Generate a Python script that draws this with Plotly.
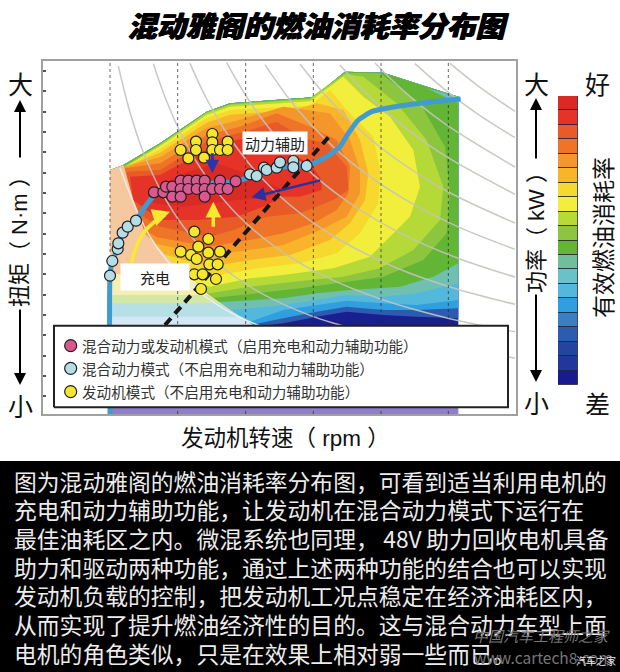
import plotly.graph_objects as go

W, H = 620, 672
CJK = "Noto Sans CJK SC"
MIXED = "Liberation Sans, Noto Sans CJK SC"

# ---------- data: chart units (engine speed index, torque index) ----------
grid_speeds = [180, 383, 587, 790, 993, 1195]
torque_ticks = [1029, 968, 907, 846, 785, 724, 663, 602, 541, 480, 419, 358, 297, 236, 175, 114, 53]

outline_speed = [180, 220, 330, 470, 540, 790, 885, 1000, 1225]
outline_torque = [732, 747, 812, 907, 932, 950, 1027, 1024, 952]

navy_low_speed = [1225, 180]
navy_low_torque = [200, 200]
royal_low_speed = [1225, 1100, 1000, 890, 800, 700, 620, 180]
royal_low_torque = [287, 292, 297, 307, 292, 272, 262, 262]
azure_low_speed = [1225, 1100, 1000, 890, 800, 700, 600, 180]
azure_low_torque = [317, 312, 312, 322, 307, 287, 267, 267]
sky_low_speed = [1225, 1100, 1000, 890, 800, 700, 600, 400, 180]
sky_low_torque = [342, 327, 332, 340, 327, 312, 277, 262, 262]
teal_low_speed = [1225, 1100, 1000, 890, 800, 700, 600, 450, 180]
teal_low_torque = [392, 362, 352, 357, 342, 327, 317, 302, 302]
green_low_speed = [1225, 1150, 1050, 900, 800, 700, 600, 500, 400, 180]
green_low_torque = [452, 412, 382, 372, 362, 347, 342, 337, 330, 330]

corner_speed = [1130, 1225, 1225]
corner_torque = [977, 952, 932]

midgreen_speed = [200, 330, 470, 540, 780, 885, 990, 1110, 1185, 1200, 1190, 1120, 1000, 890, 750, 620, 480, 300, 200]
midgreen_torque = [732, 810, 905, 930, 948, 1024, 1022, 932, 802, 662, 542, 462, 412, 397, 377, 362, 347, 400, 562]
lime_speed = [205, 330, 470, 540, 780, 885, 940, 1040, 1130, 1180, 1170, 1090, 990, 880, 730, 600, 480, 300, 205]
lime_torque = [730, 808, 903, 928, 945, 1020, 1012, 932, 822, 682, 582, 492, 437, 412, 397, 382, 362, 420, 562]
yellow_speed = [210, 330, 470, 540, 780, 880, 940, 1020, 1090, 1110, 1080, 1020, 960, 850, 700, 600, 480, 300, 210]
yellow_torque = [732, 803, 897, 922, 938, 1012, 952, 892, 792, 682, 592, 532, 472, 437, 417, 407, 382, 440, 562]
gold_speed = [213, 330, 470, 540, 780, 840, 890, 970, 990, 985, 930, 860, 750, 620, 480, 300, 213]
gold_torque = [734, 794, 888, 912, 925, 972, 912, 832, 732, 632, 542, 482, 452, 437, 412, 460, 562]
amber_speed = [216, 330, 470, 540, 720, 800, 880, 930, 955, 945, 900, 840, 720, 600, 480, 300, 216]
amber_torque = [737, 784, 874, 898, 910, 932, 912, 822, 722, 642, 572, 522, 477, 462, 442, 490, 562]
orange_speed = [220, 330, 470, 560, 700, 840, 900, 930, 930, 890, 810, 700, 580, 480, 320, 220]
orange_torque = [740, 770, 858, 880, 922, 902, 822, 732, 662, 592, 552, 507, 490, 477, 510, 582]
orange2_speed = [225, 330, 470, 570, 680, 780, 860, 900, 895, 860, 790, 700, 600, 480, 320, 225]
orange2_torque = [737, 752, 837, 862, 902, 862, 822, 742, 662, 612, 572, 542, 522, 502, 530, 592]
redorange_speed = [230, 330, 470, 600, 680, 760, 830, 890, 895, 850, 750, 650, 550, 480, 330, 230]
redorange_torque = [727, 732, 817, 852, 877, 827, 812, 742, 672, 642, 602, 592, 552, 532, 562, 622]
red_speed = [240, 330, 470, 560, 640, 700, 780, 815, 815, 750, 700, 640, 560, 440, 330, 250]
red_torque = [712, 717, 792, 822, 837, 792, 752, 702, 672, 652, 652, 622, 592, 582, 582, 642]
deepred_speed = [300, 400, 500, 600, 700, 640, 560, 400, 310]
deepred_torque = [672, 722, 752, 717, 672, 647, 642, 622, 632]

peach_speed = [180, 220, 225, 250, 285, 360, 440, 470, 540, 615, 180]
peach_torque = [732, 747, 732, 642, 542, 462, 392, 362, 312, 262, 262]
paleyellow_speed = [180, 412, 440, 470, 540, 615, 180]
paleyellow_torque = [420, 420, 392, 362, 312, 262, 262]
palegreen_speed = [180, 475, 540, 615, 180]
palegreen_torque = [357, 357, 312, 262, 262]
paleblue_speed = [180, 505, 540, 615, 180]
paleblue_torque = [332, 332, 312, 262, 262]
palesky_speed = [180, 575, 615, 180]
palesky_torque = [292, 292, 262, 262]
strip_speed = [180, 1225, 1225, 180]
strip_torque = [0, 0, 21, 21]

# constant-power curves
power_curves = [
    ([210, 300, 400, 500, 615, 640], [738, 532, 407, 329, 270, 262]),
    ([205, 240, 280, 340, 420, 520, 640, 780, 860, 1000, 1200, 1395], [1044, 905, 785, 656, 537, 438, 359, 296, 270, 233, 195, 168]),
    ([310, 350, 400, 470, 560, 680, 820, 1000, 1200, 1395], [1051, 938, 827, 710, 600, 498, 415, 342, 286, 247]),
    ([420, 470, 530, 610, 720, 860, 1040, 1220, 1395], [1052, 945, 843, 736, 627, 528, 438, 375, 329]),
    ([530, 590, 660, 760, 890, 1060, 1230, 1395], [1054, 951, 854, 745, 639, 538, 465, 411]),
    ([645, 710, 790, 900, 1040, 1210, 1395], [1048, 955, 861, 758, 659, 568, 494]),
    ([750, 820, 910, 1030, 1190, 1395], [1050, 963, 870, 771, 669, 573]),
    ([870, 940, 1040, 1170, 1395], [1047, 971, 880, 784, 659]),
    ([975, 1060, 1180, 1395], [1053, 970, 874, 741]),
    ([1095, 1180, 1280, 1395], [1051, 977, 902, 829]),
    ([1200, 1290, 1395], [1052, 980, 908]),
]

op_line_speed = [180, 180, 187, 203, 218, 258, 285, 310, 340, 395, 480, 555, 620, 700, 770, 830, 870, 895, 925, 965, 1010, 1110, 1232]
op_line_torque = [0, 415, 459, 495, 544, 580, 622, 652, 667, 687, 692, 697, 717, 742, 744, 772, 802, 842, 882, 907, 917, 932, 945]
bsfc_line_speed = [345, 835]
bsfc_line_torque = [267, 830]

hybrid_assist_speed = [312, 340, 348, 367, 392, 415, 440, 464, 510, 557, 392, 415, 440, 464, 487, 510, 533, 367, 392, 464]
hybrid_assist_torque = [665, 665, 682, 682, 700, 700, 700, 700, 700, 698, 675, 675, 675, 675, 675, 675, 675, 652, 652, 652]
hybrid_speed = [180, 187, 203, 205, 218, 233, 258, 600, 620, 642, 650, 680, 690, 730, 730, 770]
hybrid_torque = [415, 459, 495, 512, 544, 562, 580, 719, 714, 739, 732, 739, 755, 759, 740, 744]
engine_speed = [392, 415, 438, 438, 462, 487, 487, 487, 510, 533, 533,
                433, 475, 445, 392, 423, 440, 475, 510, 478, 503, 433, 458, 498, 453]
engine_torque = [792, 767, 817, 792, 769, 840, 815, 792, 792, 817, 792,
                 547, 525, 502, 487, 477, 465, 484, 487, 449, 449, 419, 419, 405, 375]

charge_arc_speed = [245, 255, 280, 320, 345]
charge_arc_torque = [452, 492, 542, 582, 597]

key_box_speed = [12, 1374, 1374, 12, 12]
key_box_torque = [20, 20, 265, 265, 20]
key_speed = [62, 62, 62]
key_torque = [205, 137, 67]
key_text_speed = 89
key_names = ["混合动力或发动机模式（启用充电和动力辅助功能）",
             "混合动力模式（不启用充电和动力辅助功能）",
             "发动机模式（不启用充电和动力辅助功能）"]
key_colors = ["#d9588f", "#b5dde6", "#f6e62c"]

scale_colors = ["#1a1a90", "#21379c", "#24459f", "#2c5cb0", "#3a7fc4", "#2f9fe0", "#54b8dc", "#6ac2c9", "#6fc09a", "#62b535",
                "#8cc63f", "#b8d93a", "#f2ee3c", "#f7d82e", "#f8b42b", "#f5962a", "#ef7428", "#e85a28", "#e63327", "#d92a25"]
scale_steps = [1] * 20
body_lines = ["图为混动雅阁的燃油消耗率分布图，可看到适当利用电机的",
              "充电和动力辅助功能，让发动机在混合动力模式下运行在",
              "最佳油耗区之内。微混系统也同理，\u200948V\u2009助力回收电机具备",
              "助力和驱动两种功能，通过上述两种功能的结合也可以实现",
              "发动机负载的控制，把发动机工况点稳定在经济油耗区内，",
              "从而实现了提升燃油经济性的目的。这与混合动力车型上面",
              "电机的角色类似，只是在效果上相对弱一些而已。"]
TITLE = "混动雅阁的燃油消耗率分布图"

# ---------- helpers (layout only) ----------
def px(x): return x / W
def py(y): return 1 - y / H

fig = go.Figure()

def patch(sx, sy, color):
    fig.add_trace(go.Scatter(x=sx, y=sy, mode="lines", fill="toself", fillcolor=color,
                             line=dict(width=0, color=color), showlegend=False, hoverinfo="skip"))

def band(low_x, low_y, color):
    patch(outline_speed + low_x, outline_torque + low_y, color)

band(navy_low_speed, navy_low_torque, "#1a1f8f")
band(royal_low_speed, royal_low_torque, "#2c5cb0")
band(azure_low_speed, azure_low_torque, "#2f9fe0")
band(sky_low_speed, sky_low_torque, "#54b8dc")
band(teal_low_speed, teal_low_torque, "#6fc0b0")
band(green_low_speed, green_low_torque, "#62b535")
patch(corner_speed, corner_torque, "#6fc0b0")
for sx, sy, c in [(midgreen_speed, midgreen_torque, "#8cc63f"), (lime_speed, lime_torque, "#b5d936"),
                  (yellow_speed, yellow_torque, "#f2ee3c"), (gold_speed, gold_torque, "#f7d82e"),
                  (amber_speed, amber_torque, "#f8b42b"), (orange_speed, orange_torque, "#f5962a"),
                  (orange2_speed, orange2_torque, "#ef7428"), (redorange_speed, redorange_torque, "#e85a28"),
                  (red_speed, red_torque, "#e63327"), (deepred_speed, deepred_torque, "#d92a25"),
                  (peach_speed, peach_torque, "#f5c8a0"), (paleyellow_speed, paleyellow_torque, "#f5eeb5"),
                  (palegreen_speed, palegreen_torque, "#d3e8a8"), (paleblue_speed, paleblue_torque, "#b6dfe6"),
                  (palesky_speed, palesky_torque, "#d5e6f5"), (strip_speed, strip_torque, "#8f7fc8")]:
    patch(sx, sy, c)

for i, (sx, sy) in enumerate(power_curves):
    fig.add_trace(go.Scatter(x=sx, y=sy, mode="lines", showlegend=False, hoverinfo="skip",
                             line=dict(color="rgba(240,240,240,0.9)" if i == 0 else "rgba(195,195,190,0.9)",
                                       width=1.5, shape="spline")))
for g in grid_speeds:
    fig.add_trace(go.Scatter(x=[g, g], y=[0, 1059], mode="lines", showlegend=False, hoverinfo="skip",
                             line=dict(color="rgba(40,40,40,0.7)", width=1, dash="dot")))

fig.add_trace(go.Scatter(x=op_line_speed, y=op_line_torque, mode="lines", showlegend=False, hoverinfo="skip",
                         line=dict(color="#3f9bd0", width=5, shape="spline", smoothing=0.5)))
fig.add_trace(go.Scatter(x=bsfc_line_speed, y=bsfc_line_torque, mode="lines", showlegend=False, hoverinfo="skip",
                         line=dict(color="#151515", width=4, dash="9px,6px")))
fig.add_trace(go.Scatter(x=charge_arc_speed, y=charge_arc_torque, mode="lines", showlegend=False, hoverinfo="skip",
                         line=dict(color="#fbe92f", width=3.5, shape="spline")))

def points(sx, sy, name, color, size=11):
    fig.add_trace(go.Scatter(x=sx, y=sy, mode="markers", name=name, showlegend=False,
                             marker=dict(size=size, color=color, line=dict(color="#202020", width=1.2))))

points(hybrid_assist_speed, hybrid_assist_torque, key_names[0], key_colors[0])
points(hybrid_speed, hybrid_torque, key_names[1], key_colors[1])
points(engine_speed, engine_torque, key_names[2], key_colors[2])

# key box and its swatches
fig.add_trace(go.Scatter(x=key_box_speed, y=key_box_torque, mode="lines", fill="toself", fillcolor="#fff",
                         line=dict(color="#222", width=2), showlegend=False, hoverinfo="skip"))
for kx, ky, name, c in zip(key_speed, key_torque, key_names, key_colors):
    points([kx], [ky], name, c, size=12)

# colour scale
fig.add_trace(go.Bar(x=["scale"] * 20, y=scale_steps, marker=dict(color=scale_colors, line=dict(color="rgba(30,30,50,0.75)", width=1)),
                     xaxis="x2", yaxis="y2", showlegend=False, hoverinfo="skip"))

ann = []
def label(x, y, text, size, color="#111", angle=0, anchor="center", family=CJK, **kw):
    ann.append(dict(x=px(x), y=py(y), xref="paper", yref="paper", text=text, showarrow=False, textangle=angle,
                    xanchor=anchor, yanchor="middle", font=dict(family=family, size=size, color=color, **kw)))

def side_arrow(x, y0, y1):
    ann.append(dict(x=px(x), y=py(y1), xref="paper", yref="paper", ax=0, ay=y0 - y1, axref="pixel", ayref="pixel",
                    text="", showarrow=True, arrowhead=2, arrowsize=1.2, arrowwidth=2, arrowcolor="#000"))

def map_arrow(x0, y0, x1, y1, color, width=3, size=1):
    ann.append(dict(x=x1, y=y1, xref="x", yref="y", ax=x0, ay=y0, axref="x", ayref="y", text="", showarrow=True,
                    arrowhead=2, arrowsize=size, arrowwidth=width, arrowcolor=color))

label(20, 83, "大", 25); label(20, 405, "小", 25)
label(20, 236, "扭矩（ N·m ）", 22, angle=-90, family=MIXED)
side_arrow(20, 159, 100); side_arrow(20, 308, 385)
label(536, 83, "大", 25); label(536, 402, "小", 25)
label(536, 227, "功率（ kW ）", 22, angle=-90, family=MIXED)
side_arrow(536, 160, 98); side_arrow(536, 293, 382)
label(597, 83, "好", 25); label(597, 403, "差", 25)
label(602, 238, "有效燃油消耗率", 23, angle=-90)
label(285, 438, "发动机转速（ rpm ）", 22.5, family=MIXED)

map_arrow(487, 787, 487, 722, "#2b35a8", 3, 0.9)
map_arrow(815, 702, 605, 650, "#2b2fa0", 2.5, 1.1)
map_arrow(490, 557, 490, 637, "#fbe92f", 3.5, 0.9)
map_arrow(340, 600, 360, 607, "#fbe92f", 3.5, 1)

ann.append(dict(x=675, y=814, xref="x", yref="y", text="动力辅助", showarrow=False,
                font=dict(family=CJK, size=15, color="#222"), bgcolor="#fff", borderpad=2, width=60, height=18))
ann.append(dict(x=315, y=410, xref="x", yref="y", text="充电", showarrow=False,
                font=dict(family=CJK, size=15, color="#222"), bgcolor="#fff", borderpad=0, width=68, height=26))

for ky, name in zip(key_torque, key_names):
    ann.append(dict(x=key_text_speed, y=ky, xref="x", yref="y", text=name, showarrow=False, xanchor="left", yanchor="middle",
                    font=dict(family=CJK, size=14.6, color="#333")))

for i, line in enumerate(body_lines):
    label(12, 481 + i * 28.7, line, 22.8, color="#ececec", anchor="left")
label(541, 635, "中国汽车工程师之家", 15, color="#777777", style="italic")
label(543, 657, "www.cartech8.com", 15.5, color="#777777")
label(596, 660, "汽车之家", 10, color="#e8e8e8")

shapes = [dict(type="rect", xref="paper", yref="paper", x0=0, x1=1, y0=py(672), y1=py(461), fillcolor="#000",
               line_width=0, layer="below")]

fig.update_layout(
    width=W, height=H, autosize=False,
    margin=dict(l=0, r=0, t=0, b=0),
    paper_bgcolor="#fff", plot_bgcolor="#fff",
    font=dict(family=CJK, color="#111"),
    showlegend=False,
    title=dict(text=TITLE, x=px(316), xanchor="center", y=py(27), yanchor="middle",
               font=dict(family=CJK, size=29, color="#000", weight=900, style="italic",
                         shadow="0.7px 0 0 #000, -0.5px 0 0 #000")),
    xaxis=dict(domain=[px(43), px(516)], range=[-21, 1398], showgrid=False, zeroline=False,
               showline=True, mirror=True, linecolor="#a0a0a0", linewidth=1.5, showticklabels=False, ticks=""),
    yaxis=dict(domain=[py(414), py(61)], range=[0, 1059], showgrid=False, zeroline=False,
               showline=True, mirror=True, linecolor="#a0a0a0", linewidth=1.5, showticklabels=False,
               ticks="inside", ticklen=3, tickwidth=1.5, tickcolor="#555", tickmode="array", tickvals=torque_ticks),
    xaxis2=dict(domain=[px(558), px(578)], anchor="y2", visible=False, fixedrange=True),
    yaxis2=dict(domain=[py(385), py(96)], anchor="x2", range=[0, 20], visible=False, fixedrange=True),
    barmode="stack", bargap=0,
    annotations=ann, shapes=shapes,
)
fig.write_html("out.html", config={"displayModeBar": False},
               post_script="document.body.style.margin='0';document.documentElement.style.overflow='hidden';")
